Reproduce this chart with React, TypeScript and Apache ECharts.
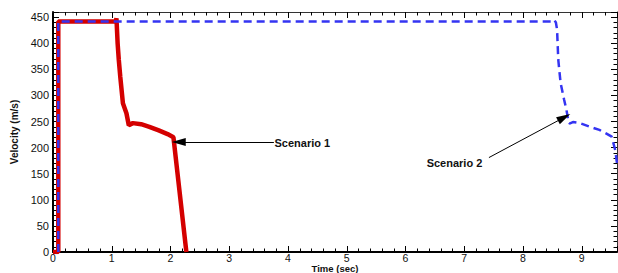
import React, { useEffect, useRef } from "react";
import * as echarts from "echarts";

// Scenario 1 (solid red)
const scenario1Time = [0, 0.09, 0.09, 1.0, 1.07, 1.08, 1.1, 1.12, 1.145, 1.19, 1.25, 1.29, 1.36, 1.5, 1.64, 1.8, 1.95, 2.05, 2.27];
const scenario1Velocity = [0, 0, 442, 442, 442, 448, 400, 368, 336, 285, 266, 243, 247, 245, 240, 233, 226, 220, 0];

// Scenario 2 (dashed blue)
const scenario2Time = [0.09, 0.09, 8.5, 8.53, 8.56, 8.58, 8.6, 8.64, 8.7, 8.74, 8.77, 8.79, 8.85, 8.97, 9.14, 9.3, 9.42, 9.51, 9.57, 9.6];
const scenario2Velocity = [0, 442, 442, 445, 440, 426, 369, 324, 292, 272, 253, 246, 249, 247, 240, 234, 227, 221, 195, 170];

// Annotations
const annotationLabels = ["Scenario 1", "Scenario 2"];
const annotationTextAt = [[3.77, 208], [6.36, 170]];
const arrowFrom = [[3.76, 211], [7.42, 181]];
const arrowTo = [[2.14, 211], [8.7, 258]];

const xTickLabels = ["0", "1", "2", "3", "4", "5", "6", "7", "8", "9"];
const xAxisTitle = "Time (sec)";
const yAxisTitle = "Velocity (m/s)";

const FONT = "'Liberation Sans', Arial, sans-serif";

export default function App() {
  const ref = useRef<HTMLDivElement>(null);
  useEffect(() => {
    if (!ref.current) return;
    const chart = echarts.init(ref.current, null, { renderer: "svg" });
    const s1 = scenario1Time.map((t, i) => [t, scenario1Velocity[i]]);
    const s2 = scenario2Time.map((t, i) => [t, scenario2Velocity[i]]);
    const tickCommon = {
      axisTick: { show: true, inside: true, length: 6, lineStyle: { color: "#000", width: 1 } },
      minorTick: { show: true, splitNumber: 5, length: 3.5, lineStyle: { color: "#000", width: 1 } },
      splitLine: { show: false },
      minorSplitLine: { show: false },
    };
    const xBase = { type: "value", min: 0, max: 9.6, interval: 1, ...tickCommon };
    const yBase = { type: "value", min: 0, max: 460, interval: 50, ...tickCommon };
    chart.setOption({
      animation: false,
      grid: { left: 53, right: 1, top: 12, bottom: 21, outerBoundsMode: "none" },
      xAxis: [
        {
          ...xBase,
          position: "bottom",
          axisLine: { show: true, onZero: false, lineStyle: { color: "#000", width: 2 } },
          axisLabel: {
            show: true,
            margin: 1,
            color: "#111",
            fontFamily: FONT,
            fontSize: 10.5,
            lineHeight: 10,
            showMaxLabel: false,
            formatter: (v: number) => (Number.isInteger(v) ? xTickLabels[v] ?? "" : ""),
          },
        },
        {
          ...xBase,
          position: "top",
          axisLine: { show: true, onZero: false, lineStyle: { color: "#333", width: 1 } },
          axisLabel: { show: false },
        },
      ],
      yAxis: [
        {
          ...yBase,
          position: "left",
          axisLine: { show: true, onZero: false, lineStyle: { color: "#000", width: 2 } },
          axisLabel: {
            show: true,
            margin: 4,
            color: "#111",
            fontFamily: FONT,
            fontSize: 11,
            showMaxLabel: false,
          },
          name: yAxisTitle,
          nameLocation: "middle",
          nameGap: 28,
          nameTextStyle: { color: "#111", fontFamily: FONT, fontSize: 10, fontWeight: "bold" },
        },
        {
          ...yBase,
          position: "right",
          axisLine: { show: true, onZero: false, lineStyle: { color: "#333", width: 1 } },
          axisLabel: { show: false },
        },
      ],
      series: [
        {
          type: "line",
          data: s1,
          showSymbol: false,
          symbol: "none",
          lineStyle: { color: "#d40000", width: 4.5 },
          z: 2,
          markLine: {
            silent: true,
            symbol: ["none", "triangle"],
            symbolSize: [8, 14],
            lineStyle: { color: "#000", width: 1, type: "solid" },
            label: { show: false },
            data: [[{ coord: arrowFrom[0] }, { coord: arrowTo[0] }]],
          },
        },
        {
          type: "line",
          data: s2,
          showSymbol: false,
          symbol: "none",
          lineStyle: { color: "#3434f2", width: 2.5, type: [8, 5] },
          z: 3,
          markLine: {
            silent: true,
            symbol: ["none", "triangle"],
            symbolSize: [8, 14],
            lineStyle: { color: "#000", width: 1, type: "solid" },
            label: { show: false },
            data: [[{ coord: arrowFrom[1] }, { coord: arrowTo[1] }]],
          },
        },
      ],
    });
    const graphics: any[] = annotationLabels.map((txt, i) => {
      const p = chart.convertToPixel({ xAxisIndex: 0, yAxisIndex: 0 }, annotationTextAt[i]) as number[];
      return {
        type: "text",
        x: p[0],
        y: p[1],
        style: {
          text: txt,
          fill: "#111",
          font: `bold 11px ${FONT}`,
          textAlign: "left",
          textVerticalAlign: "middle",
        },
      };
    });
    graphics.push({
      type: "text",
      x: 335,
      y: 273,
      style: {
        text: xAxisTitle,
        fill: "#111",
        font: `bold 9.5px ${FONT}`,
        lineHeight: 9.5,
        textAlign: "center",
        textVerticalAlign: "bottom",
      },
    });
    chart.setOption({ graphic: graphics });
    return () => chart.dispose();
  }, []);
  return (
    <div
      ref={ref}
      style={{ position: "fixed", left: 0, top: 0, width: 618, height: 273, background: "#fff" }}
    />
  );
}
